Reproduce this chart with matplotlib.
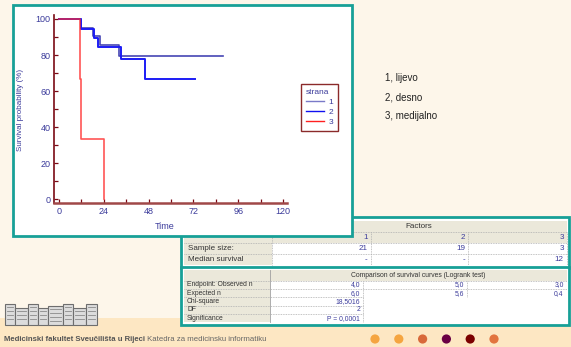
import matplotlib
matplotlib.use("Agg")
import matplotlib.pyplot as plt
from matplotlib.patches import Rectangle, Circle
from matplotlib.lines import Line2D
from matplotlib.ticker import MultipleLocator

plt.rcParams['font.family'] = ['Liberation Sans', 'DejaVu Sans']

# ---- Kaplan-Meier step data (time, survival %) ----
group_labels = ["1", "2", "3"]
time_1 = [0, 12, 18, 22, 32, 88]
surv_1 = [100, 95.2, 90.5, 85.7, 79.6, 79.6]
time_2 = [0, 12, 19, 21, 33, 46, 73]
surv_2 = [100, 94.7, 89.5, 84.2, 77.7, 66.6, 66.6]
time_3 = [0, 11, 12, 24]
surv_3 = [100, 66.7, 33.3, 0]

x_ticks = [0, 24, 48, 72, 96, 120]
y_ticks = [0, 20, 40, 60, 80, 100]

side_notes = ["1, lijevo", "2, desno", "3, medijalno"]

# ---- summary tables ----
factor_cols = ["1", "2", "3"]
sample_size = [21, 19, 3]
median_survival = ["-", "-", "12"]
observed_n = [4.0, 5.0, 3.0]
expected_n = [6.0, 5.6, 0.4]
chi_square = 18.5016
dof = 2
significance = "P = 0,0001"

footer_bold = "Medicinski fakultet Sveučilišta u Rijeci"
footer_rest = " Katedra za medicinsku informatiku"
dot_colors = ["#f5a540", "#f5a540", "#d8693a", "#6a0044", "#7c0000", "#e2743e"]

W, H = 571, 347
fig = plt.figure(figsize=(W / 100, H / 100), dpi=100)
fig.patch.set_facecolor("#fdf6ea")

# page-level drawing layer in pixel units
bg = fig.add_axes([0, 0, 1, 1])
bg.set_xlim(0, W)
bg.set_ylim(H, 0)
bg.axis("off")

TEAL = "#17a097"
NAVY = "#3b3b9b"
LBL = "#333333"
BEIGE = "#ebe8da"


def comma(v, nd=1):
    return f"{v:.{nd}f}".replace(".", ",")


def draw_table(x0, x1, y0, y1, z):
    bg.add_patch(Rectangle((x0, y0), x1 - x0, y1 - y0, facecolor="white",
                           edgecolor=TEAL, lw=2, zorder=z))


# footer band
bg.add_patch(Rectangle((0, 318), W, H - 318, facecolor="#fde7c3", edgecolor="none", zorder=0))

# ---- table 1 ----
t1_cols = [271.7, 370.7, 468.0, 566.7]
t1_rows = [221.0, 231.7, 243.0, 254.0, 265.0]
draw_table(181, 569, 217, 268, 1)
bg.add_patch(Rectangle((184, t1_rows[0]), 566.7 - 184, t1_rows[2] - t1_rows[0],
                       facecolor=BEIGE, edgecolor="none", zorder=1.1))
bg.add_patch(Rectangle((184, t1_rows[0]), t1_cols[0] - 184, t1_rows[-1] - t1_rows[0],
                       facecolor=BEIGE, edgecolor="none", zorder=1.1))
for yy in t1_rows[1:-1]:
    bg.plot([184, 566.7], [yy, yy], color="#b0b0b0", lw=0.6, ls=(0, (1, 1)), zorder=1.2)
for xx in t1_cols:
    bg.plot([xx, xx], [t1_rows[1] if xx != t1_cols[0] else t1_rows[0], t1_rows[-1]],
            color="#b0b0b0", lw=0.6, ls=(0, (1, 1)), zorder=1.2)
bg.text((t1_cols[0] + t1_cols[-1]) / 2, (t1_rows[0] + t1_rows[1]) / 2, "Factors",
        fontsize=5.8, color=LBL, ha="center", va="center", zorder=1.3)
for i, c in enumerate(factor_cols):
    bg.text(t1_cols[i + 1] - 3, (t1_rows[1] + t1_rows[2]) / 2, c, fontsize=5.8,
            color=NAVY, ha="right", va="center", zorder=1.3)
    bg.text(t1_cols[i + 1] - 3, (t1_rows[2] + t1_rows[3]) / 2, str(sample_size[i]),
            fontsize=5.8, color=NAVY, ha="right", va="center", zorder=1.3)
    bg.text(t1_cols[i + 1] - 3, (t1_rows[3] + t1_rows[4]) / 2, median_survival[i],
            fontsize=5.8, color=NAVY, ha="right", va="center", zorder=1.3)
bg.text(188, (t1_rows[2] + t1_rows[3]) / 2, "Sample size:", fontsize=5.8, color=LBL,
        va="center", zorder=1.3)
bg.text(188, (t1_rows[3] + t1_rows[4]) / 2, "Median survival", fontsize=5.8, color=LBL,
        va="center", zorder=1.3)

# ---- table 2 ----
t2_cols = [270.0, 363.3, 466.7, 566.7]
t2_rows = [270.0, 280.5, 289.0, 297.3, 305.6, 314.0, 322.3]
draw_table(181, 569, 267, 325, 1)
bg.add_patch(Rectangle((184, t2_rows[0]), 566.7 - 184, t2_rows[1] - t2_rows[0],
                       facecolor=BEIGE, edgecolor="none", zorder=1.1))
bg.add_patch(Rectangle((184, t2_rows[0]), t2_cols[0] - 184, t2_rows[-1] - t2_rows[0],
                       facecolor=BEIGE, edgecolor="none", zorder=1.1))
bg.plot([t2_cols[0], t2_cols[0]], [t2_rows[0], t2_rows[-1]], color="#a0a0a0", lw=0.6, zorder=1.2)
for k, yy in enumerate(t2_rows[1:-1]):
    x_end = 566.7 if k < 2 else t2_cols[1]
    bg.plot([184, x_end], [yy, yy], color="#b0b0b0", lw=0.6, ls=(0, (1, 1)), zorder=1.2)
for xx in t2_cols[1:3]:
    y_end = t2_rows[3] if xx != t2_cols[1] else t2_rows[-1]
    bg.plot([xx, xx], [t2_rows[1], y_end], color="#b0b0b0", lw=0.6, ls=(0, (1, 1)), zorder=1.2)
bg.text((t2_cols[0] + t2_cols[-1]) / 2, (t2_rows[0] + t2_rows[1]) / 2,
        "Comparison of survival curves (Logrank test)", fontsize=4.9, color=LBL,
        ha="center", va="center", zorder=1.3)
row_names = ["Endpoint: Observed n", "Expected n", "Chi-square", "DF", "Significance"]
for r, name in enumerate(row_names):
    bg.text(187, (t2_rows[r + 1] + t2_rows[r + 2]) / 2, name, fontsize=4.9, color=LBL,
            va="center", zorder=1.3)
for i in range(3):
    bg.text(t2_cols[i + 1] - 3, (t2_rows[1] + t2_rows[2]) / 2, comma(observed_n[i]),
            fontsize=4.9, color=NAVY, ha="right", va="center", zorder=1.3)
    bg.text(t2_cols[i + 1] - 3, (t2_rows[2] + t2_rows[3]) / 2, comma(expected_n[i]),
            fontsize=4.9, color=NAVY, ha="right", va="center", zorder=1.3)
single_vals = [comma(chi_square, 4), str(dof), significance]
for r, v in enumerate(single_vals):
    bg.text(t2_cols[1] - 3, (t2_rows[3 + r] + t2_rows[4 + r]) / 2, v, fontsize=4.9,
            color=NAVY, ha="right", va="center", zorder=1.3)

# ---- chart panel (on top of table 1 corner) ----
bg.add_patch(Rectangle((12.5, 5), 339.5, 231, facecolor="white", edgecolor=TEAL,
                       lw=2, zorder=2))

# side notes
for i, s in enumerate(side_notes):
    bg.text(385, 78 + 19 * i, s, fontsize=7, color="#222222", va="center", zorder=2)

# footer text
t = bg.text(4, 339.5, footer_bold, fontsize=5.6, fontweight="bold", color="#555555",
            va="center", zorder=2)
fig.canvas.draw()
bb = t.get_window_extent()
bg.text(bb.x1, 339.5, footer_rest, fontsize=5.6, color="#666666", va="center", zorder=2)

for i, c in enumerate(dot_colors):
    bg.add_patch(Circle((375 + 23.8 * i, 339), 4.6, facecolor=c, edgecolor="none", zorder=2))

# building logo
logo_parts = [
    (5, 304, 10, 21), (15, 308, 13, 17), (28, 304, 10, 21), (38, 308, 10, 17),
    (48, 306, 15, 19), (63, 304, 10, 21), (73, 308, 13, 17), (86, 304, 11, 21),
]
for (lx, ly, lw_, lh) in logo_parts:
    bg.add_patch(Rectangle((lx, ly), lw_, lh, facecolor="#dcdcdc", edgecolor="#6e6e6e",
                           lw=0.8, zorder=2))
    for wy in range(int(ly) + 3, int(ly + lh) - 2, 4):
        bg.plot([lx + 2, lx + lw_ - 2], [wy, wy], color="#8a8a8a", lw=0.6, zorder=2.1)

# ---- survival chart ----
ax = fig.add_axes([54.3 / W, 1 - 203.3 / H, (287 - 54.3) / W, (203.3 - 15) / H])
ax.set_facecolor("none")
ax.set_zorder(3)
ax.set_xlim(-2.5, 122.1)
ax.set_ylim(-2.2, 102.2)

ax.step(time_1, surv_1, where="post", color="#4646b4", lw=1.2, label=group_labels[0])
ax.step(time_2, surv_2, where="post", color="#1c1cf5", lw=1.4, label=group_labels[1])
ax.step(time_3, surv_3, where="post", color="#ff2a2a", lw=1.2, alpha=0.8,
        label=group_labels[2])

for sp in ["top", "right"]:
    ax.spines[sp].set_visible(False)
ax.spines["left"].set_color("#7a0a14")
ax.spines["left"].set_linewidth(1.2)
ax.spines["bottom"].set_color("#a04848")
ax.spines["bottom"].set_linewidth(1.8)

ax.set_xticks(x_ticks)
ax.set_yticks(y_ticks)
ax.xaxis.set_minor_locator(MultipleLocator(12))
ax.yaxis.set_minor_locator(MultipleLocator(10))
ax.tick_params(which="both", direction="in", length=3, width=0.9, color="#7a0a14",
               labelcolor=NAVY, labelsize=6.5)
ax.tick_params(axis="y", pad=2.5)
ax.tick_params(axis="x", pad=3)

ax.set_xlabel("Time", fontsize=6.5, color=NAVY, labelpad=3)
ax.xaxis.set_label_coords((165 - 54.3) / (287 - 54.3), -(222 - 203.3) / (203.3 - 15))
ax.set_ylabel("Survival probability (%)", fontsize=5.8, color=NAVY)
ax.yaxis.set_label_coords(-(54.3 - 24) / (287 - 54.3), (203.3 - 110) / (203.3 - 15))

handles = [
    Line2D([], [], color="#7a7ac8", lw=1.0),
    Line2D([], [], color="#1010f0", lw=1.0),
    Line2D([], [], color="#ff2020", lw=1.0),
]
leg = ax.legend(handles, group_labels, title="strana", loc="upper left",
                bbox_to_anchor=(301 / W, 1 - 84 / H), bbox_transform=fig.transFigure,
                fontsize=6, title_fontsize=6, fancybox=False, framealpha=1,
                edgecolor="#8b2a2a", handlelength=2.2, handletextpad=0.5,
                borderpad=0.6, labelspacing=0.25, borderaxespad=0)
leg.get_frame().set_linewidth(1.0)
leg.get_title().set_color(NAVY)
leg._legend_box.align = "left"
for txt in leg.get_texts():
    txt.set_color(NAVY)

fig.savefig("out.png", dpi=100, facecolor=fig.get_facecolor())
